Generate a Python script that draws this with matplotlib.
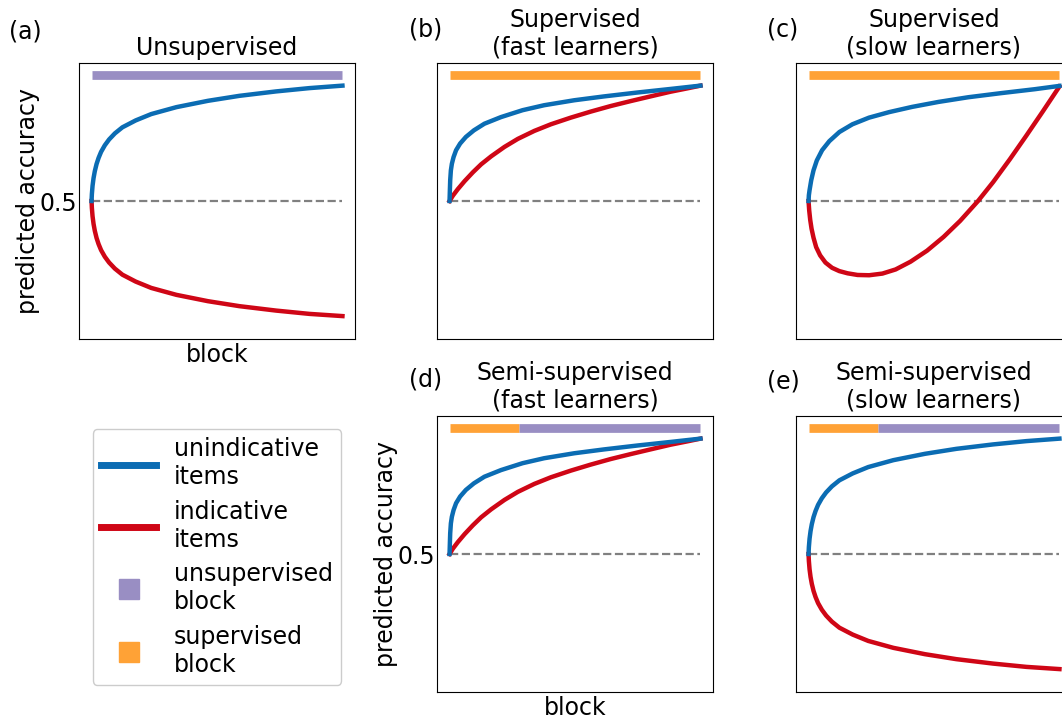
import matplotlib
matplotlib.use('Agg')
import matplotlib.pyplot as plt
from matplotlib.lines import Line2D

# ─── Colours ─────────────────────────────────────────────────────────────
BLUE = '#0b6cb3'
RED = '#cf0616'
PURPLE = '#998ec3'
ORANGE = '#ffa236'
GREY = '#808080'

# ─── Data (x = fraction of blocks) ───────────────────────────────────────
# unsupervised learning: indicative items drift the wrong way
unsup_x = [0, 0.0013, 0.004, 0.008, 0.013, 0.020, 0.028, 0.038, 0.053, 0.070,
           0.093, 0.123, 0.176, 0.238, 0.338, 0.464, 0.589, 0.735, 0.868, 1.0]
unsup_blue = [0.5, 0.525, 0.555, 0.583, 0.608, 0.634, 0.656, 0.678, 0.702, 0.723,
              0.745, 0.767, 0.792, 0.815, 0.840, 0.863, 0.881, 0.897, 0.909, 0.918]
unsup_red = [0.5, 0.475, 0.445, 0.417, 0.392, 0.366, 0.344, 0.322, 0.298, 0.277,
             0.255, 0.233, 0.208, 0.185, 0.160, 0.137, 0.119, 0.103, 0.091, 0.083]

# fast learners (supervised and semi-supervised look the same)
fast_blue_x = [0, 0.0013, 0.0026, 0.0053, 0.0093, 0.016, 0.026, 0.042, 0.065,
               0.097, 0.139, 0.205, 0.291, 0.377, 0.497, 0.616, 0.748, 0.881, 1.0]
fast_blue = [0.5, 0.539, 0.575, 0.611, 0.635, 0.659, 0.684, 0.708, 0.732,
             0.756, 0.780, 0.804, 0.829, 0.847, 0.865, 0.879, 0.893, 0.906, 0.918]
fast_red_x = [0, 0.013, 0.033, 0.060, 0.093, 0.126, 0.166, 0.219, 0.272, 0.338,
              0.404, 0.483, 0.563, 0.642, 0.722, 0.801, 0.881, 0.947, 1.0]
fast_red = [0.5, 0.519, 0.543, 0.572, 0.604, 0.633, 0.662, 0.696, 0.725, 0.754,
            0.778, 0.802, 0.824, 0.844, 0.862, 0.879, 0.896, 0.908, 0.918]

# slow learners
slow_blue_x = [0, 0.0013, 0.004, 0.0106, 0.0198, 0.033, 0.054, 0.083, 0.123,
               0.175, 0.241, 0.321, 0.413, 0.518, 0.637, 0.769, 0.901, 1.0]
slow_blue = [0.5, 0.521, 0.539, 0.575, 0.611, 0.647, 0.684, 0.717, 0.750,
             0.778, 0.802, 0.822, 0.841, 0.859, 0.876, 0.891, 0.905, 0.917]
slow_red_x = [0, 0.0026, 0.0066, 0.0119, 0.0198, 0.0303, 0.0462, 0.0673, 0.0937,
              0.1227, 0.1557, 0.1953, 0.2414, 0.2942, 0.3470, 0.4063, 0.4723,
              0.5383, 0.6042, 0.6755, 0.7361, 0.8021, 0.8681, 0.9340, 1.0]
slow_red = [0.5, 0.466, 0.432, 0.400, 0.367, 0.333, 0.303, 0.277, 0.258,
            0.246, 0.238, 0.232, 0.231, 0.237, 0.252, 0.280, 0.320,
            0.370, 0.428, 0.5, 0.569, 0.651, 0.737, 0.825, 0.915]

# block-type bar at the top of each panel
bar_y = 0.958
sup_end = 0.275   # end of the supervised phase in semi-supervised panels

W, H = 1062, 719
fig = plt.figure(figsize=(W / 100, H / 100), dpi=100)
FS = 17


def make_ax(x0, y_top, ylab=False):
    ax = fig.add_axes([x0 / W, 1 - (y_top + 276) / H, 276 / W, 276 / H])
    ax.set_ylim(0, 1)
    ax.set_xticks([])
    if ylab:
        ax.set_yticks([0.5])
        ax.set_yticklabels(['0.5'], fontsize=FS)
        ax.tick_params(axis='y', length=0, pad=1)
        ax.set_ylabel('predicted accuracy', fontsize=FS)
        ax.yaxis.set_label_coords(-0.14, 0.5)
        ax.set_xlabel('block', fontsize=FS, labelpad=3)
    else:
        ax.set_yticks([])
    ax.plot([0, 1], [0.5, 0.5], '--', color=GREY, lw=1.6, zorder=1)
    return ax


def curves(ax, bx, by, rx, ry):
    ax.plot(bx, by, color=BLUE, lw=3.2, zorder=3)
    ax.plot(rx, ry, color=RED, lw=3.2, zorder=2)


def bar(ax, segs):
    for a, b, c in segs:
        ax.plot([a, b], [bar_y, bar_y], color=c, lw=6.3, solid_capstyle='butt')


# (a) unsupervised
ax_a = make_ax(79, 63, ylab=True)
curves(ax_a, unsup_x, unsup_blue, unsup_x, unsup_red)
bar(ax_a, [(0, 1, PURPLE)])
ax_a.set_title('Unsupervised', fontsize=FS)

# (b) supervised, fast
ax_b = make_ax(437, 63)
curves(ax_b, fast_blue_x, fast_blue, fast_red_x, fast_red)
bar(ax_b, [(0, 1, ORANGE)])
ax_b.set_title('Supervised\n(fast learners)', fontsize=FS)

# (c) supervised, slow
ax_c = make_ax(796, 63)
curves(ax_c, slow_blue_x, slow_blue, slow_red_x, slow_red)
bar(ax_c, [(0, 1, ORANGE)])
ax_c.set_title('Supervised\n(slow learners)', fontsize=FS)

# (d) semi-supervised, fast
ax_d = make_ax(437, 416, ylab=True)
curves(ax_d, fast_blue_x, fast_blue, fast_red_x, fast_red)
bar(ax_d, [(0, sup_end, ORANGE), (sup_end, 1, PURPLE)])
ax_d.set_title('Semi-supervised\n(fast learners)', fontsize=FS)

# (e) semi-supervised, slow
ax_e = make_ax(796, 416)
curves(ax_e, unsup_x, unsup_blue, unsup_x, unsup_red)
bar(ax_e, [(0, sup_end, ORANGE), (sup_end, 1, PURPLE)])
ax_e.set_title('Semi-supervised\n(slow learners)', fontsize=FS)

# panel letters
for lab, px, py in [('(a)', 9, 31), ('(b)', 409, 29), ('(c)', 767, 29),
                    ('(d)', 409, 380), ('(e)', 767, 381)]:
    fig.text(px / W, 1 - py / H, lab, fontsize=FS, ha='left', va='center')

# legend
handles = [
    Line2D([], [], color=BLUE, lw=5),
    Line2D([], [], color=RED, lw=5),
    Line2D([], [], ls='none', marker='s', ms=15, color=PURPLE),
    Line2D([], [], ls='none', marker='s', ms=15, color=ORANGE),
]
labels = ['unindicative\nitems', 'indicative\nitems',
          'unsupervised\nblock', 'supervised\nblock']
fig.legend(handles, labels, loc='center', bbox_to_anchor=(217 / W, 1 - 557 / H),
           fontsize=FS, handlelength=2.35, handletextpad=0.75, labelspacing=0.45,
           borderpad=0.35, framealpha=1)

fig.savefig('out.png', dpi=100)
